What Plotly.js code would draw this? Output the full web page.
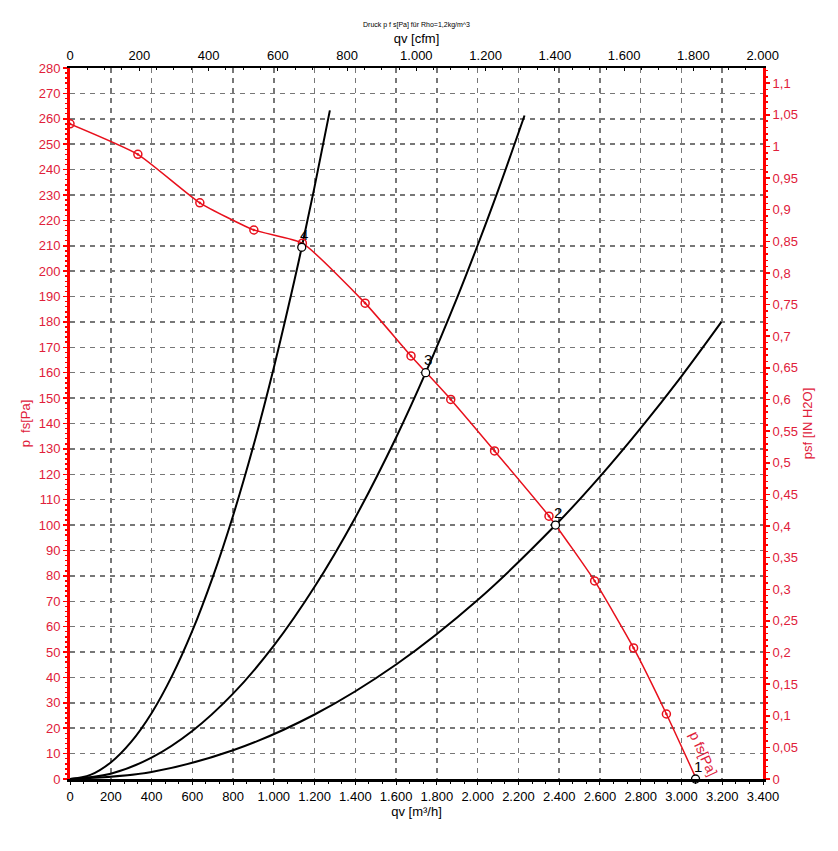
<!DOCTYPE html>
<html>
<head>
<meta charset="utf-8">
<script src="https://cdn.plot.ly/plotly-3.0.1.min.js"></script>
<style>html,body{margin:0;padding:0;background:#fff;}#chart{width:838px;height:851px;}</style>
</head>
<body>
<div id="chart"></div>
<script>
// Fan curve p fs [Pa] vs qv [m³/h]
const fanQ = [0, 333, 637, 902, 1140, 1448, 1673, 1868, 2083, 2350, 2574, 2765, 2926, 3073];
const fanP = [258, 246, 226.9, 216.2, 211, 187.4, 166.6, 149.5, 129.2, 103.5, 78, 51.6, 25.6, 0];

// System curves
const sys4Q = [0, 100, 200, 300, 400, 500, 600, 700, 800, 900, 1000, 1100, 1137, 1200, 1275];
const sys4P = [0, 1.6, 6.5, 14.6, 25.9, 40.5, 58.3, 79.4, 103.7, 131.2, 162, 196, 209.4, 233.3, 263.3];
const sys3Q = [0, 200, 400, 600, 800, 1000, 1200, 1400, 1600, 1745, 1900, 2000, 2100, 2230];
const sys3P = [0, 2.1, 8.4, 18.9, 33.6, 52.5, 75.7, 103, 134.5, 160, 189.7, 210.2, 231.7, 261.3];
const sys2Q = [0, 400, 800, 1200, 1600, 2000, 2382, 2600, 2800, 3000, 3196];
const sys2P = [0, 2.8, 11.3, 25.4, 45.1, 70.5, 100, 119.1, 138.2, 158.6, 180];

// Operating points
const opQ = [3069, 2382, 1745, 1137];
const opP = [0, 100, 160, 209.4];
const opLabels = ['1', '2', '3', '4'];

// Axis ticks
const qTickStep = 200;      // m³/h and cfm
const pTickStep = 10;       // Pa
const inTickStep = 0.05;    // in H2O

const RED = '#e8101c';
const REDTXT = '#e0203a';
const FONT = 'Liberation Sans, Arial, sans-serif';

const traces = [
  {x: sys4Q, y: sys4P, mode: 'lines', line: {color: '#000', width: 2, shape: 'spline', smoothing: 1}, hoverinfo: 'skip'},
  {x: sys3Q, y: sys3P, mode: 'lines', line: {color: '#000', width: 2, shape: 'spline', smoothing: 1}, hoverinfo: 'skip'},
  {x: sys2Q, y: sys2P, mode: 'lines', line: {color: '#000', width: 2, shape: 'spline', smoothing: 1}, hoverinfo: 'skip'},
  {x: fanQ, y: fanP, mode: 'lines', line: {color: RED, width: 1.5, shape: 'spline', smoothing: 0.5}},
  {x: fanQ.slice(0, fanQ.length - 1), y: fanP.slice(0, fanP.length - 1), mode: 'markers',
   marker: {symbol: 'circle-open-dot', size: 8, color: RED, line: {color: RED, width: 1.5}}},
  {x: opQ, y: opP, mode: 'markers', cliponaxis: false,
   marker: {symbol: 'circle', size: 8, color: '#fff', line: {color: '#000', width: 1.3}}},
  // invisible traces to activate the secondary axes
  {x: [0], y: [0], xaxis: 'x2', yaxis: 'y', mode: 'markers', marker: {opacity: 0}, hoverinfo: 'skip'},
  {x: [0], y: [0], xaxis: 'x', yaxis: 'y2', mode: 'markers', marker: {opacity: 0}, hoverinfo: 'skip'}
];

const annotations = opLabels.map((t, i) => ({
  x: opQ[i], y: opP[i], xref: 'x', yref: 'y', text: t, showarrow: false,
  yshift: 13, xshift: 2, font: {family: FONT, size: 15, color: '#000'}
}));
annotations.push({
  x: 3110, y: 10, xref: 'x', yref: 'y', text: 'p fs[Pa]', showarrow: false,
  textangle: 65, font: {family: FONT, size: 14, color: REDTXT}
});

const layout = {
  width: 838, height: 851,
  margin: {l: 70, r: 75, t: 68, b: 72},
  paper_bgcolor: '#fff', plot_bgcolor: '#fff',
  showlegend: false,
  separators: ',.',
  font: {family: FONT, size: 13, color: '#000'},
  title: {text: 'Druck p f s[Pa] für Rho=1,2kg/m^3', font: {family: FONT, size: 7, color: '#000'},
          x: 0.5, xref: 'paper', y: 1 - 25/851, yref: 'container', yanchor: 'middle'},
  xaxis: {
    range: [0, 3400], dtick: qTickStep, tick0: 0, separatethousands: true,
    showgrid: true, gridcolor: '#777', griddash: '5px,5px', gridwidth: 1.5,
    showline: true, linecolor: '#000', linewidth: 3,
    ticks: 'outside', ticklen: 3, tickcolor: '#000',
    minor: {dtick: 66.6667, ticks: 'outside', ticklen: 2, tickcolor: '#000', showgrid: false},
    tickfont: {family: FONT, size: 13, color: '#000'},
    title: {text: 'qv [m³/h]', font: {family: FONT, size: 13, color: '#000'}, standoff: 2},
    zeroline: false, fixedrange: true
  },
  xaxis2: {
    overlaying: 'x', side: 'top', range: [0, 2001], dtick: qTickStep, tick0: 0, separatethousands: true,
    showgrid: false, showline: true, linecolor: '#000', linewidth: 2.5,
    ticks: 'inside', ticklen: 3, tickcolor: '#000',
    minor: {dtick: 50, ticks: 'inside', ticklen: 2, tickcolor: '#000', showgrid: false},
    tickfont: {family: FONT, size: 13, color: '#000'},
    title: {text: 'qv [cfm]', font: {family: FONT, size: 13, color: '#000'}, standoff: 2},
    zeroline: false, fixedrange: true
  },
  yaxis: {
    range: [0, 280], dtick: pTickStep, tick0: 0,
    showgrid: true, gridcolor: '#777', griddash: '5px,5px', gridwidth: 1.5,
    showline: true, linecolor: '#ff0000', linewidth: 3,
    ticks: 'outside', ticklen: 4, tickcolor: '#ff0000', tickwidth: 1.5,
    minor: {dtick: 2, ticks: 'outside', ticklen: 2, tickcolor: '#ff0000', showgrid: false},
    tickfont: {family: FONT, size: 13, color: REDTXT},
    title: {text: 'p  fs[Pa]', font: {family: FONT, size: 13, color: REDTXT}, standoff: 6},
    zeroline: false, fixedrange: true
  },
  yaxis2: {
    overlaying: 'y', side: 'right', range: [0, 280 / 249.089], dtick: inTickStep, tick0: 0,
    showgrid: false, showline: true, linecolor: '#ff0000', linewidth: 3,
    ticks: 'outside', ticklen: 4, tickcolor: '#ff0000', tickwidth: 1.5,
    minor: {dtick: 0.01, ticks: 'outside', ticklen: 2, tickcolor: '#ff0000', showgrid: false},
    tickfont: {family: FONT, size: 13, color: REDTXT},
    title: {text: 'psf [IN H2O]', font: {family: FONT, size: 13, color: REDTXT}, standoff: 6},
    zeroline: false, fixedrange: true
  },
  annotations: annotations
};

Plotly.newPlot('chart', traces, layout, {staticPlot: true, displayModeBar: false});
</script>
</body>
</html>
